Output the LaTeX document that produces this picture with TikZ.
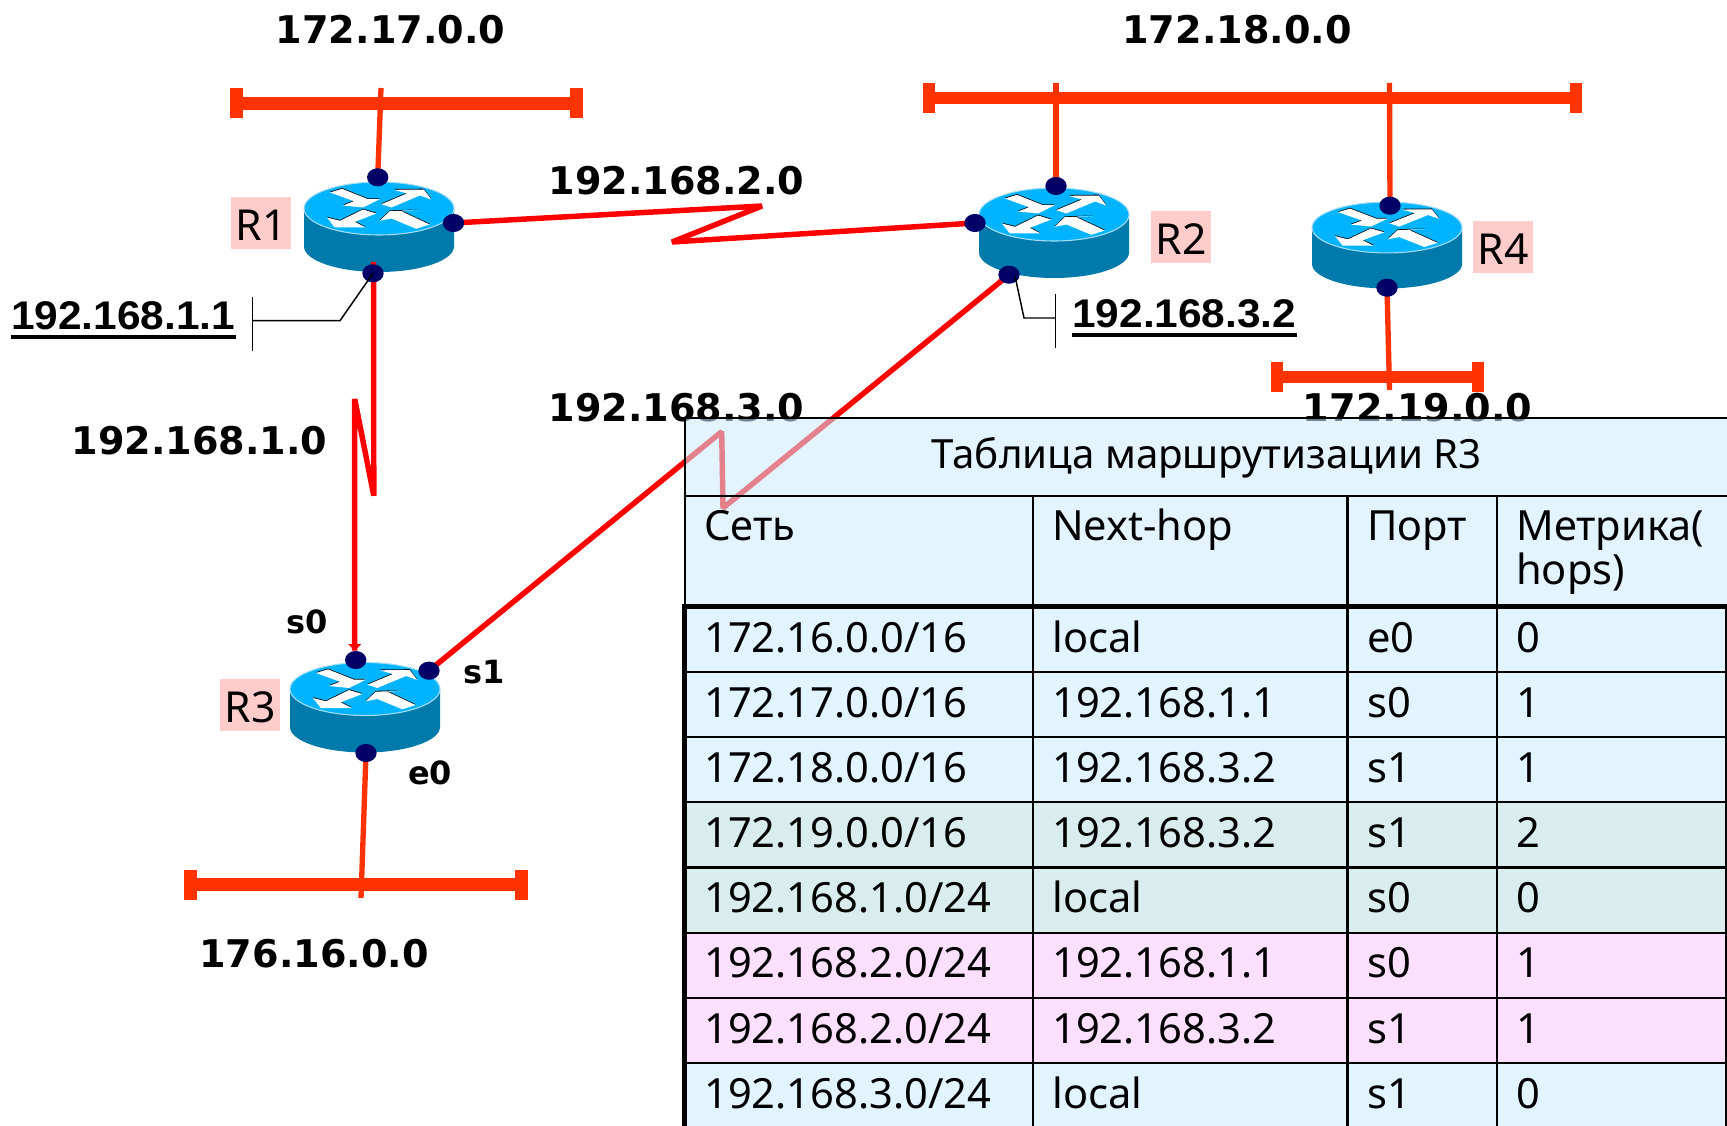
\documentclass[tikz,border=0pt]{standalone}
\usepackage{fontspec}
\usetikzlibrary{shapes.geometric,arrows.meta}
\setmainfont{Noto Sans}
\newfontfamily\netfont{DejaVu Sans}
\newfontfamily\addrfont[FakeStretch=1.06]{Liberation Sans}
\definecolor{netred}{HTML}{FF3300}
\definecolor{linkred}{HTML}{FF0000}
\definecolor{portblue}{HTML}{000066}
\definecolor{rtop}{HTML}{00B4FF}
\definecolor{rside}{HTML}{0079AB}
\definecolor{rrim}{HTML}{A6DDF5}
\definecolor{pinkbox}{HTML}{FFCCCC}
\definecolor{rowblue}{HTML}{E2F4FF}
\definecolor{tabunder}{HTML}{CCEBFF}
\definecolor{rowteal}{HTML}{D9EDEE}
\definecolor{rowpink}{HTML}{FDE0FF}
\pgfdeclarelayer{routerlayer}
\pgfdeclarelayer{linklayer}
\pgfsetlayers{routerlayer,linklayer,main}
\tikzset{
  port/.style={ellipse,fill=portblue,inner sep=0pt,minimum width=16pt,minimum height=13.6pt},
  netlabel/.style={inner sep=0pt,anchor=base,font=\netfont\bfseries\fontsize{28.6pt}{32pt}\selectfont},
  portlabel/.style={inner sep=0pt,anchor=base west,font=\netfont\bfseries\fontsize{24pt}{28pt}\selectfont},
  addr/.style={inner sep=0pt,anchor=base west,font=\addrfont\bfseries\fontsize{30pt}{34pt}\selectfont},
  rname/.style={fill=pinkbox,inner sep=0pt,minimum width=45pt,minimum height=39pt,text height=23pt,text depth=0pt,font=\fontsize{32pt}{36pt}\selectfont},
  cell/.style={inner sep=0pt,anchor=base west,font=\fontsize{31.2pt}{34pt}\selectfont},
  netbar/.style={draw=netred,line width=9.2pt},
  netcap/.style={draw=netred,line width=9.4pt},
  stem/.style={draw=netred,line width=4pt},
  wanlink/.style={draw=linkred,line width=4.1pt,line join=bevel},
  leader/.style={draw=black,line width=1.1pt},
  grid/.style={draw=black,line width=1.6pt},
  gridthick/.style={draw=black,line width=4pt},
}
\newcommand{\arrowpoly}[1]{\path[#1]
  (-49,-16) -- (-37,-19.7) -- (-11,-9.3) -- (.7,-9.3) -- (-16,-1) -- (-36,-3) -- (-25,-7.3) -- cycle
  (2.3,-4.3) -- (28,-15) -- (14.7,-18.7) -- (44.7,-19) -- (52.3,-9) -- (41,-13) -- (12.3,-1) -- cycle
  (-52,9) -- (-39,12.3) -- (-16,1) -- (-2.7,5) -- (-24.3,13.3) -- (-13.3,19) -- (-44.3,19) -- cycle
  (39,1.7) -- (22.3,2.7) -- (50.7,16) -- (37.3,20.3) -- (12.3,10) -- (.7,12.3) -- (10.7,2.7) -- cycle;}
\newcommand{\routerbody}[3]{%
  \begin{scope}[shift={(#1,#2)},yscale=#3]
    \path[fill=rside] (-75,0) -- (-75,38) .. controls (-75,52) and (-41.4,63.5) .. (0,63.5)
      .. controls (41.4,63.5) and (75,52) .. (75,38) -- (75,0) -- cycle;
    \path[fill=rtop,draw=rrim,line width=.8pt] (0,0) ellipse [x radius=75,y radius=26.5];
    \begin{scope}[yshift=.6pt]\arrowpoly{fill=black}\end{scope}
    \arrowpoly{fill=white}
  \end{scope}}
\newcommand{\tabrow}[6]{%
  \node[cell] (c#1a) at (704,#2) {#3};
  \node[cell] (c#1b) at (1052,#2) {#4};
  \node[cell] (c#1c) at (1367,#2) {#5};
  \node[cell] (c#1d) at (1516,#2) {#6};}
\begin{document}
\begin{tikzpicture}[x=.75pt,y=-.75pt]
\useasboundingbox (0,0) rectangle (1727,1126);

\begin{pgfonlayer}{routerlayer}
  \path[fill=white] (0,0) rectangle (1727,1126);
  \routerbody{379}{208.5}{1}
  \routerbody{1054}{214.5}{1}
  \routerbody{1387}{227.5}{.96}
  \routerbody{365}{689}{1}
\end{pgfonlayer}

% ports
\node[port] (r1t) at (377.7,177.3) {};
\node[port] (r1r) at (453.5,223) {};
\node[port] (r1b) at (373,273.3) {};
\node[port] (r2t) at (1056,186) {};
\node[port] (r2l) at (975,223) {};
\node[port] (r2b) at (1009,274.7) {};
\node[port] (r4t) at (1390,205.7) {};
\node[port] (r4b) at (1387,287.7) {};
\node[port] (r3s0) at (355.7,660) {};
\node[port] (r3s1) at (429,670.7) {};
\node[port] (r3e0) at (366,753) {};

% coordinates on the networks
\coordinate (n17l) at (236.7,103.5); \coordinate (n17r) at (576.5,103.5);
\coordinate (n18l) at (929,97.7);    \coordinate (n18r) at (1576,97.7);
\coordinate (n19l) at (1277,376.7);  \coordinate (n19r) at (1478,376.7);
\coordinate (n16l) at (190.5,884.5); \coordinate (n16r) at (521.7,884.5);
\coordinate (s17) at (381,88);
\coordinate (s18a) at (1056,83);
\coordinate (s18b) at (1389.5,83);
\coordinate (s19) at (1389.5,390);
\coordinate (s16) at (361,898);
% zig-zag corners
\coordinate (z2a) at (762,206); \coordinate (z2b) at (672,242);
\coordinate (z1a) at (373.8,495.7); \coordinate (z1b) at (354.7,399);
\coordinate (z3a) at (721.7,431.7); \coordinate (z3b) at (723,508);
\coordinate (r1tip) at (373.5,262);

\begin{pgfonlayer}{linklayer}
  \foreach \a/\b in {n17l/n17r,n18l/n18r,n19l/n19r,n16l/n16r}{
    \draw[netbar] (\a) -- (\b);
    \draw[netcap] ([yshift=11.25pt]\a) -- ([yshift=-11.25pt]\a);
    \draw[netcap] ([yshift=11.25pt]\b) -- ([yshift=-11.25pt]\b);
  }
  \draw[stem] (s17) -- (r1t.center);
  \draw[stem] (s18a) -- (r2t.center);
  \draw[stem] (s18b) -- (r4t.center);
  \draw[stem] (r4b.center) -- (s19);
  \draw[stem] (r3e0.center) -- (s16);
  \draw[wanlink] (r1r.center) -- (z2a) -- (z2b) -- (r2l.center);
  \draw[wanlink] (r1tip) -- (z1a) -- (z1b) -- (z1b |- r3s0.north);
  \draw[wanlink,-{Triangle[width=9.5pt,length=5pt]}] (z1b) -- (z1b |- r3s0.north);
  \draw[wanlink] (r3s1.center) -- (z3a) -- (z3b) -- (r2b.center);
\end{pgfonlayer}

% leaders
\coordinate (l1a) at (340,320.7); \coordinate (l1b) at (252.3,320.7);
\coordinate (l1c) at (252.3,296.7); \coordinate (l1d) at (252.3,350.7);
\coordinate (l2a) at (1024,318); \coordinate (l2b) at (1055.4,318);
\coordinate (l2c) at (1055.4,294.3); \coordinate (l2d) at (1055.4,348);
\draw[leader] (r1b.center) -- (l1a) -- (l1b);
\draw[leader] (l1c) -- (l1d);
\draw[leader] ([xshift=4.5pt,yshift=-1pt]r2b.center) -- (l2a) -- (l2b);
\draw[leader] (l2c) -- (l2d);

% router names
\node[rname] (nR1) at (261,223) {\raisebox{-1.5pt}{R1}};
\node[rname] (nR2) at (1181,237) {\raisebox{-1.5pt}{R2}};
\node[rname] (nR4) at (1503,247) {\raisebox{-1.5pt}{R4}};
\node[rname] (nR3) at (250,705) {\raisebox{-1.5pt}{R3}};

% labels
\node[netlabel] (t17) at (390.5,43.3) {172.17.0.0};
\node[netlabel] (t18) at (1237,43.3) {172.18.0.0};
\node[netlabel] (t19) at (1417.5,422) {172.19.0.0};
\node[netlabel] (t16) at (314,967) {176.16.0.0};
\node[netlabel] (t22) at (676.5,194.5) {192.168.2.0};
\node[netlabel] (t21) at (199.5,455) {192.168.1.0};
\node[netlabel] (t23) at (676.5,422) {192.168.3.0};
\node[portlabel] (ls0) at (286,633) {s0};
\node[portlabel] (ls1) at (463,683) {s1};
\node[portlabel] (le0) at (408,784) {e0};
\node[addr] (a1) at (11,330) {192.168.1.1};
\node[addr] (a2) at (1072,328) {192.168.3.2};
\draw[line width=3pt] ([yshift=-5.25pt]a1.base west) -- ([yshift=-5.25pt]a1.base east);
\draw[line width=3pt] ([yshift=-5.25pt]a2.base west) -- ([yshift=-5.25pt]a2.base east);

% table fills
\path[fill=tabunder,fill opacity=.55] (685,418) rectangle (1727,606.7);
\path[fill=rowblue] (685,606.7) rectangle (1726,802);
\path[fill=rowteal] (685,802) rectangle (1726,933);
\path[fill=rowpink] (685,933) rectangle (1726,1063);
\path[fill=rowblue] (685,1063) rectangle (1726,1126);

% table grid
\draw[grid] (684.5,418) -- (1727,418);
\draw[grid] (684.5,496) -- (1727,496);
\foreach \y in {672,737,802,867.5,932.7,997.7,1062.7}{\draw[grid] (685,\y) -- (1726,\y);}
\draw[grid] (685,418) -- (685,606);
\foreach \x in {1033,1347.5,1497}{\draw[grid] (\x,496) -- (\x,1126);}
\draw[grid,line width=1.2pt] (1726,606.7) -- (1726,1126);
\draw[gridthick] (682,606.7) -- (1727,606.7);
\draw[line width=4pt] (684.5,604) -- (684.5,1126);

% table text
\node[cell,font=\fontsize{30.2pt}{34pt}\selectfont] (title) at (931.5,469) {Таблица маршрутизации R3};
\node[cell] (h1) at (704,540) {Сеть};
\node[cell] (h2) at (1052,540) {Next-hop};
\node[cell] (h3) at (1367,540) {Порт};
\node[cell] (h4) at (1516,540) {Метрика(};
\node[cell] (h4b) at (1516,584) {hops)};
\tabrow{1}{652.5}{172.16.0.0/16}{local}{e0}{0}
\tabrow{2}{717.5}{172.17.0.0/16}{192.168.1.1}{s0}{1}
\tabrow{3}{782.5}{172.18.0.0/16}{192.168.3.2}{s1}{1}
\tabrow{4}{847.5}{172.19.0.0/16}{192.168.3.2}{s1}{2}
\tabrow{5}{912.5}{192.168.1.0/24}{local}{s0}{0}
\tabrow{6}{977.5}{192.168.2.0/24}{192.168.1.1}{s0}{1}
\tabrow{7}{1043}{192.168.2.0/24}{192.168.3.2}{s1}{1}
\tabrow{8}{1108.5}{192.168.3.0/24}{local}{s1}{0}
\end{tikzpicture}
\end{document}
